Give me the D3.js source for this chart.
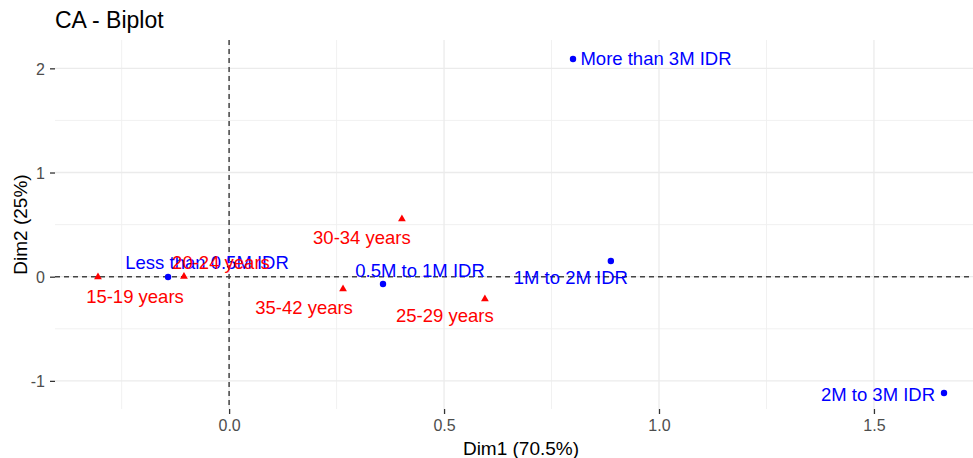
<!DOCTYPE html>
<html>
<head>
<meta charset="utf-8">
<script src="https://cdn.jsdelivr.net/npm/d3@7"></script>
<style>
  body { margin: 0; background: #fff; }
  svg text { font-family: "Liberation Sans", Arial, sans-serif; }
</style>
</head>
<body>
<div id="chart"></div>
<script>
// row points (income)
var rowNames = ['More than 3M IDR', '1M to 2M IDR', '2M to 3M IDR', '0.5M to 1M IDR', 'Less than 0.5M IDR'];
var rowDim1 = [0.800, 0.888, 1.663, 0.358, -0.142];
var rowDim2 = [2.089, 0.151, -1.116, -0.070, -0.003];

// column points (age)
var colNames = ['15-19 years', '20-24 years', '30-34 years', '35-42 years', '25-29 years'];
var colDim1 = [-0.305, -0.105, 0.402, 0.265, 0.595];
var colDim2 = [-0.003, 0.002, 0.554, -0.118, -0.214];

var xTicks = [0, 0.5, 1, 1.5];
var yTicks = [-1, 0, 1, 2];
var xMinor = [-0.25, 0.25, 0.75, 1.25, 1.75];
var yMinor = [-0.5, 0.5, 1.5];

// label nudges in px (text centre, baseline)
var rowNudge = [[83, 6], [-40, 23], [-66, 8], [37, -7], [39, -8]];
var colNudge = [[37, 26], [37, -7], [-40, 25], [-39, 25], [-40, 23]];

var width = 973,
  height = 458;
var pLeft = 55, pRight = 987, pTop = 40, pBottom = 409;

var x = d3.scaleLinear().domain([-0.405, 1.763]).range([pLeft, pRight]);
var y = d3.scaleLinear().domain([-1.27, 2.272]).range([pBottom, pTop]);

var svg = d3.select('#chart')
  .append('svg')
  .attr('width', width)
  .attr('height', height);

var grid = svg.append('g');

grid.selectAll('.minor-x')
  .data(xMinor)
  .enter().append('line')
  .attr('x1', d => x(d)).attr('x2', d => x(d))
  .attr('y1', pTop).attr('y2', pBottom)
  .attr('stroke', '#efefef').attr('stroke-width', 0.9);

grid.selectAll('.minor-y')
  .data(yMinor)
  .enter().append('line')
  .attr('x1', pLeft).attr('x2', pRight)
  .attr('y1', d => y(d)).attr('y2', d => y(d))
  .attr('stroke', '#efefef').attr('stroke-width', 0.9);

grid.selectAll('.major-x')
  .data(xTicks)
  .enter().append('line')
  .attr('x1', d => x(d)).attr('x2', d => x(d))
  .attr('y1', pTop).attr('y2', pBottom)
  .attr('stroke', '#ebebeb').attr('stroke-width', 1.3);

grid.selectAll('.major-y')
  .data(yTicks)
  .enter().append('line')
  .attr('x1', pLeft).attr('x2', pRight)
  .attr('y1', d => y(d)).attr('y2', d => y(d))
  .attr('stroke', '#ebebeb').attr('stroke-width', 1.3);

// axes (plain hyphen for negatives, as in R)
var xAxis = svg.append('g')
  .attr('transform', 'translate(0,' + pBottom + ')')
  .call(d3.axisBottom(x).tickValues(xTicks).tickFormat(d => d.toFixed(1)).tickSize(5).tickPadding(6));
var yAxis = svg.append('g')
  .attr('transform', 'translate(' + pLeft + ',0)')
  .call(d3.axisLeft(y).tickValues(yTicks).tickFormat(d => String(d)).tickSize(5).tickPadding(5));

[xAxis, yAxis].forEach(function (g) {
  g.select('.domain').remove();
  g.selectAll('.tick line').attr('stroke', '#333').attr('stroke-width', 1.3);
  g.selectAll('.tick text').attr('fill', '#4d4d4d').style('font-size', '16px');
});
yAxis.selectAll('.tick text').attr('dy', '0.36em');

// reference lines at 0
svg.append('line')
  .attr('x1', pLeft).attr('x2', pRight)
  .attr('y1', y(0)).attr('y2', y(0))
  .attr('stroke', '#444').attr('stroke-width', 1.5).attr('stroke-dasharray', '5,4');
svg.append('line')
  .attr('x1', x(0)).attr('x2', x(0))
  .attr('y1', pTop).attr('y2', pBottom)
  .attr('stroke', '#444').attr('stroke-width', 1.5).attr('stroke-dasharray', '5,4');

var rows = rowNames.map((n, i) => ({ name: n, d1: rowDim1[i], d2: rowDim2[i], nudge: rowNudge[i] }));
var cols = colNames.map((n, i) => ({ name: n, d1: colDim1[i], d2: colDim2[i], nudge: colNudge[i] }));

svg.selectAll('.row-pt')
  .data(rows)
  .enter().append('circle')
  .attr('cx', d => x(d.d1)).attr('cy', d => y(d.d2))
  .attr('r', 3.2)
  .attr('fill', '#0000ff');

var tri = d3.symbol().type(d3.symbolTriangle).size(26);
svg.selectAll('.col-pt')
  .data(cols)
  .enter().append('path')
  .attr('d', tri)
  .attr('transform', d => 'translate(' + x(d.d1) + ',' + y(d.d2) + ')')
  .attr('fill', '#ff0000');

svg.selectAll('.row-lab')
  .data(rows)
  .enter().append('text')
  .attr('x', d => x(d.d1) + d.nudge[0])
  .attr('y', d => y(d.d2) + d.nudge[1])
  .attr('text-anchor', 'middle')
  .attr('fill', '#0000ff')
  .style('font-size', '18.5px')
  .text(d => d.name);

svg.selectAll('.col-lab')
  .data(cols)
  .enter().append('text')
  .attr('x', d => x(d.d1) + d.nudge[0])
  .attr('y', d => y(d.d2) + d.nudge[1])
  .attr('text-anchor', 'middle')
  .attr('fill', '#ff0000')
  .style('font-size', '18.5px')
  .text(d => d.name);

// titles
svg.append('text')
  .attr('x', 55).attr('y', 28)
  .style('font-size', '23px')
  .attr('fill', '#000')
  .text('CA - Biplot');

svg.append('text')
  .attr('x', (pLeft + pRight) / 2).attr('y', 455)
  .attr('text-anchor', 'middle')
  .style('font-size', '19px')
  .text('Dim1 (70.5%)');

svg.append('text')
  .attr('transform', 'translate(27,' + (pTop + pBottom) / 2 + ') rotate(-90)')
  .attr('text-anchor', 'middle')
  .style('font-size', '19px')
  .text('Dim2 (25%)');
</script>
</body>
</html>
